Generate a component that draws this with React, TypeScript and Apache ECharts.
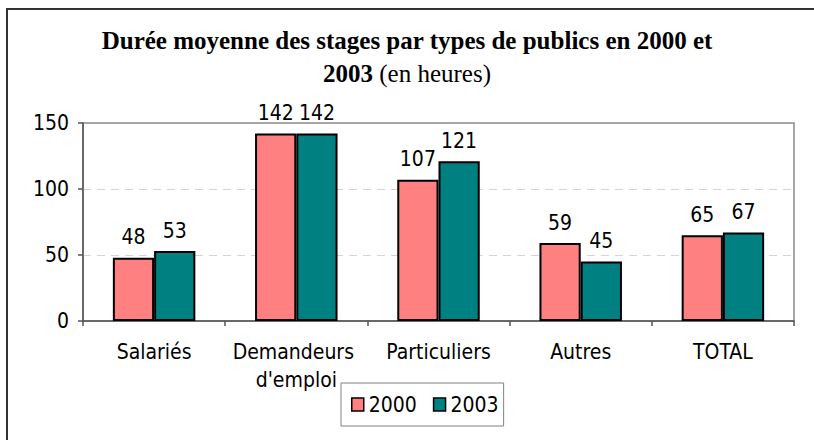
import React, { useEffect, useRef } from "react";
import * as echarts from "echarts";

const categories = ["Salariés", "Demandeurs d'emploi", "Particuliers", "Autres", "TOTAL"];
const seriesNames = ["2000", "2003"];
const values2000 = [48, 142, 107, 59, 65];
const values2003 = [53, 142, 121, 45, 67];
const yMin = 0;
const yMax = 150;
const yInterval = 50;

const titleLine1 = "Durée moyenne des stages par types de publics en 2000 et";
const titleLine2Bold = "2003";
const titleLine2Normal = " (en heures)";

const NARROW = "'Liberation Sans Narrow', 'DejaVu Sans Condensed', 'Arial Narrow', sans-serif";
const SERIF = "'Liberation Serif', 'Times New Roman', serif";

export default function App() {
  const ref = useRef<HTMLDivElement>(null);
  useEffect(() => {
    document.body.style.margin = "0";
    if (!ref.current) return;
    const chart = echarts.init(ref.current, null, { renderer: "svg" });
    const colors = ["#FF8080", "#008080"];
    chart.setOption({
      animation: false,
      backgroundColor: "#ffffff",
      title: {
        left: "center",
        top: 19,
        text:
          "{b|" + titleLine1 + "}\n{b|" + titleLine2Bold + "}{n|" + titleLine2Normal + "}",
        textStyle: {
          rich: {
            b: { fontFamily: SERIF, fontWeight: "bold", fontSize: 25, lineHeight: 33, color: "#000" },
            n: { fontFamily: SERIF, fontWeight: "normal", fontSize: 25, lineHeight: 33, color: "#000" },
          },
        },
      },
      graphic: [
        {
          type: "rect",
          shape: { x: 7, y: 9, width: 1000, height: 600 },
          style: { fill: "none", stroke: "#333", lineWidth: 2 },
          silent: true,
        },
      ],
      legend: {
        data: seriesNames,
        left: 341,
        top: 383,
        orient: "horizontal",
        icon: "rect",
        itemWidth: 12,
        itemHeight: 13,
        itemGap: 16,
        padding: [11, 5, 11, 10],
        borderColor: "#808080",
        borderWidth: 1,
        itemStyle: { borderColor: "#000", borderWidth: 1.5 },
        textStyle: { fontFamily: NARROW, fontSize: 21, color: "#000" },
      },
      grid: {
        left: 83,
        right: 20,
        top: 123,
        bottom: 119,
        show: true,
        borderColor: "#8a8a8a",
        borderWidth: 1.5,
        backgroundColor: "transparent",
      },
      xAxis: {
        type: "category",
        data: categories,
        axisLine: { show: true, lineStyle: { color: "#555", width: 1.5 } },
        axisTick: { show: true, length: 5, lineStyle: { color: "#555", width: 1.5 } },
        axisLabel: {
          fontFamily: NARROW,
          fontSize: 21,
          color: "#000",
          margin: 17,
          lineHeight: 28,
          width: 130,
          overflow: "break",
          interval: 0,
        },
      },
      yAxis: {
        type: "value",
        min: yMin,
        max: yMax,
        interval: yInterval,
        axisLine: { show: true, lineStyle: { color: "#555", width: 1.5 } },
        axisTick: { show: true, length: 5, lineStyle: { color: "#555", width: 1.5 } },
        axisLabel: { fontFamily: NARROW, fontSize: 21, color: "#000", margin: 14 },
        splitLine: {
          show: true,
          showMaxLine: false,
          showMinLine: false,
          lineStyle: { color: "#d4d4d4", type: [8, 6], width: 1 },
        },
      },
      series: [
        {
          name: seriesNames[0],
          type: "bar",
          data: values2000,
          barGap: "0%",
          barCategoryGap: "42%",
          itemStyle: { color: colors[0], borderColor: "#000", borderWidth: 2 },
          label: { show: true, position: "top", distance: 10, fontFamily: NARROW, fontSize: 21, color: "#000" },
        },
        {
          name: seriesNames[1],
          type: "bar",
          data: values2003,
          barGap: "0%",
          barCategoryGap: "42%",
          itemStyle: { color: colors[1], borderColor: "#000", borderWidth: 2 },
          label: { show: true, position: "top", distance: 10, fontFamily: NARROW, fontSize: 21, color: "#000" },
        },
      ],
    });
    return () => chart.dispose();
  }, []);
  return <div ref={ref} style={{ width: 814, height: 440 }} />;
}
